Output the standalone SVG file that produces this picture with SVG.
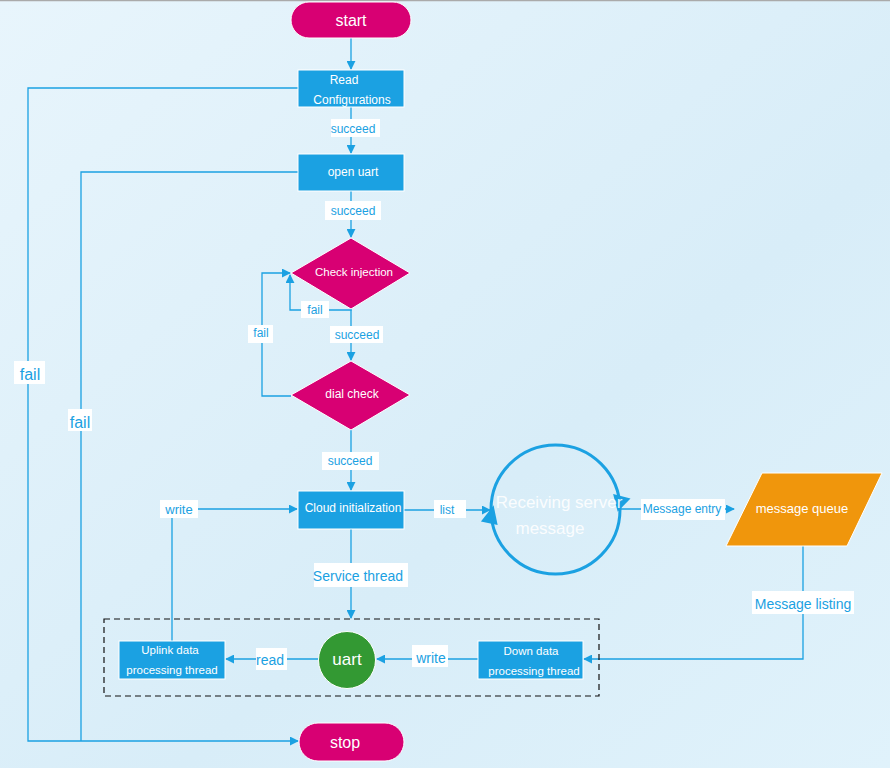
<svg xmlns="http://www.w3.org/2000/svg" width="890" height="768" viewBox="0 0 890 768">
<defs>
<linearGradient id="bg" x1="0" y1="0" x2="1" y2="1">
<stop offset="0" stop-color="#e8f5fc"/>
<stop offset="0.6" stop-color="#d8edf8"/>
<stop offset="1" stop-color="#e0f2fb"/>
</linearGradient>
<marker id="ar" viewBox="0 0 10 10" refX="9" refY="5" markerWidth="9" markerHeight="9" markerUnits="userSpaceOnUse" orient="auto">
<path d="M0,0 L10,5 L0,10 z" fill="#1ba1e2"/>
</marker>
<style>
.ln{fill:none;stroke:#1ba1e2;stroke-width:1.3}
.lb{fill:#fff}
.lt{font-family:"Liberation Sans",Arial,sans-serif;fill:#1ba1e2;text-anchor:middle;dominant-baseline:central}
.nt{font-family:"Liberation Sans",Arial,sans-serif;fill:#fff;text-anchor:middle;dominant-baseline:central}
.box{fill:#1ba1e2;stroke:#fff;stroke-width:1}
.mag{fill:#d80073;stroke:#fff;stroke-width:1}
</style>
</defs>
<rect width="890" height="768" fill="url(#bg)"/>
<line x1="0" y1="0.5" x2="890" y2="0.5" stroke="#aaaaaa" stroke-width="1.5"/>

<g id="connectors">
<path class="ln" d="M351,38 V69" marker-end="url(#ar)"/>
<path class="ln" d="M351,107 V153" marker-end="url(#ar)"/>
<path class="ln" d="M351,191 V237" marker-end="url(#ar)"/>
<path class="ln" d="M351,309 V360" marker-end="url(#ar)"/>
<path class="ln" d="M351,309 V310 H290 V275" marker-end="url(#ar)"/>
<path class="ln" d="M291,396 H262 V273 H290" marker-end="url(#ar)"/>
<path class="ln" d="M351,430 V490" marker-end="url(#ar)"/>
<path class="ln" d="M172,641 V509 H297" marker-end="url(#ar)"/>
<path class="ln" d="M404,510 H490" marker-end="url(#ar)"/>
<path class="ln" d="M620,509 H734" marker-end="url(#ar)"/>
<path class="ln" d="M803,546 V659 H584" marker-end="url(#ar)"/>
<path class="ln" d="M351,529 V618" marker-end="url(#ar)"/>
<path class="ln" d="M478,659 H377" marker-end="url(#ar)"/>
<path class="ln" d="M318,659 H226" marker-end="url(#ar)"/>
<path class="ln" d="M298,88 H28 V741 H298" marker-end="url(#ar)"/>
<path class="ln" d="M298,172 H81 V741"/>
<rect x="104" y="619" width="495" height="77" fill="none" stroke="#111" stroke-width="1.2" stroke-dasharray="6,4"/>

<rect class="lb" x="331" y="119" width="49" height="18"/>
<text class="lt" x="353" y="129" font-size="12">succeed</text>
<rect class="lb" x="325" y="201" width="56" height="19"/>
<text class="lt" x="353" y="211" font-size="12">succeed</text>
<rect class="lb" x="301" y="301" width="28" height="17"/>
<text class="lt" x="315" y="310" font-size="12">fail</text>
<rect class="lb" x="248" y="325" width="25" height="18"/>
<text class="lt" x="261" y="333" font-size="12">fail</text>
<rect class="lb" x="330" y="326" width="53" height="17"/>
<text class="lt" x="357" y="335" font-size="12">succeed</text>
<rect class="lb" x="322" y="452" width="57" height="18"/>
<text class="lt" x="350" y="461" font-size="12">succeed</text>
<rect class="lb" x="160" y="500" width="38" height="18"/>
<text class="lt" x="179" y="509" font-size="13">write</text>
<rect class="lb" x="434" y="500" width="32" height="18"/>
<text class="lt" x="447" y="510" font-size="12">list</text>
<rect class="lb" x="641" y="499" width="84" height="21"/>
<text class="lt" x="682" y="509" font-size="12">Message entry</text>
<rect class="lb" x="314" y="563" width="94" height="24"/>
<text class="lt" x="358" y="576" font-size="14">Service thread</text>
<rect class="lb" x="752" y="591" width="102" height="23"/>
<text class="lt" x="803" y="604" font-size="14">Message listing</text>
<rect class="lb" x="256" y="648" width="31" height="22"/>
<text class="lt" x="270" y="660" font-size="14">read</text>
<rect class="lb" x="412" y="645" width="36" height="22"/>
<text class="lt" x="431" y="658" font-size="14">write</text>
<rect class="lb" x="14" y="361" width="31" height="23"/>
<text class="lt" x="30" y="374" font-size="16">fail</text>
<rect class="lb" x="68" y="409" width="24" height="22"/>
<text class="lt" x="80" y="422" font-size="16">fail</text>
</g>

<g id="start">
<rect class="mag" x="291" y="2" width="120" height="36" rx="18"/>
<text class="nt" x="351" y="20" font-size="16">start</text>
</g>
<g id="read-config">
<rect class="box" x="298" y="70" width="106" height="37"/>
<text class="nt" x="344" y="80" font-size="12">Read</text>
<text class="nt" x="352" y="100" font-size="12">Configurations</text>
</g>
<g id="open-uart">
<rect class="box" x="298" y="154" width="106" height="37"/>
<text class="nt" x="353" y="172" font-size="12">open uart</text>
</g>
<g id="check-injection">
<polygon class="mag" points="351,238 410,273 351,309 291,273"/>
<text class="nt" x="354" y="272" font-size="11.5">Check injection</text>
</g>
<g id="dial-check">
<polygon class="mag" points="351,361 410,395 351,430 291,395"/>
<text class="nt" x="352" y="394" font-size="12">dial check</text>
</g>
<g id="cloud-init">
<rect class="box" x="298" y="491" width="106" height="38"/>
<text class="nt" x="353" y="508" font-size="12">Cloud initialization</text>
</g>
<g id="receiving">
<circle cx="555.5" cy="509.5" r="64.5" fill="none" stroke="#1ba1e2" stroke-width="3"/>
<polygon points="483,524 491,505 500,523" fill="#1ba1e2" transform="rotate(15 491 515)"/>
<polygon points="611,496 629,496 620,512" fill="#1ba1e2" transform="rotate(15 620 503)"/>
<text class="nt" x="559" y="502" font-size="17" fill-opacity="0.9">Receiving  server</text>
<text class="nt" x="550" y="528" font-size="17" fill-opacity="0.9">message</text>
</g>
<g id="message-queue">
<polygon points="762,473 882,473 847,546 726,546" fill="#f0960c" stroke="#fff" stroke-width="1"/>
<text class="nt" x="802" y="508" font-size="13">message queue</text>
</g>
<g id="uplink">
<rect class="box" x="119" y="641" width="106" height="38"/>
<text class="nt" x="170" y="650" font-size="11.5">Uplink data</text>
<text class="nt" x="172" y="670" font-size="11.5">processing thread</text>
</g>
<g id="uart">
<circle cx="347" cy="660" r="28.5" fill="#339933" stroke="#fff" stroke-width="1"/>
<text class="nt" x="347" y="659" font-size="17">uart</text>
</g>
<g id="down">
<rect class="box" x="478" y="641" width="105" height="38"/>
<text class="nt" x="531" y="651" font-size="11.5">Down data</text>
<text class="nt" x="534" y="671" font-size="11.5">processing thread</text>
</g>
<g id="stop">
<rect class="mag" x="299" y="723" width="105" height="38" rx="19"/>
<text class="nt" x="345" y="742" font-size="16">stop</text>
</g>
</svg>
